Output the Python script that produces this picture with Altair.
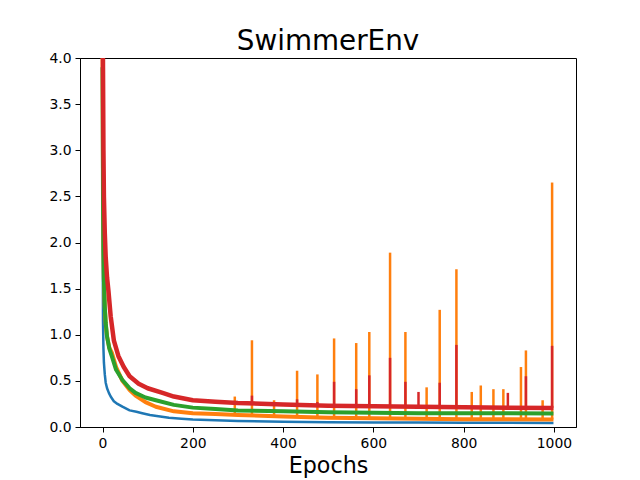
import altair as alt
import pandas as pd

# ---- data ----
blue_epoch = [0, 1, 2, 3, 5, 7, 10, 14, 18, 25, 33, 44, 60, 75, 88, 105, 120, 147, 175, 200, 250, 300, 400, 500, 600, 700, 800, 900, 999]
blue_loss = [3.15, 1.15, 0.85, 0.70, 0.57, 0.48, 0.42, 0.37, 0.33, 0.28, 0.25, 0.22, 0.18, 0.165, 0.15, 0.13, 0.12, 0.10, 0.09, 0.08, 0.072, 0.065, 0.058, 0.052, 0.05, 0.048, 0.046, 0.045, 0.044]

green_epoch = [0, 1, 2, 3, 5, 7, 10, 15, 21, 30, 44, 60, 73, 95, 118, 158, 200, 250, 300, 400, 500, 600, 700, 800, 900, 999]
green_loss = [3.9, 2.5, 1.9, 1.6, 1.3, 1.13, 0.98, 0.85, 0.76, 0.62, 0.51, 0.42, 0.37, 0.32, 0.29, 0.24, 0.21, 0.195, 0.18, 0.17, 0.16, 0.155, 0.15, 0.15, 0.15, 0.145]

orange_epoch = [0, 1, 2, 3, 5, 7, 10, 15, 21, 30, 44, 60, 73, 95, 118, 158, 200, 250, 300, 400, 500, 600, 700, 800, 900, 999]
orange_loss = [4.1, 2.8, 2.0, 1.6, 1.3, 1.12, 0.98, 0.86, 0.80, 0.65, 0.50, 0.40, 0.34, 0.27, 0.22, 0.17, 0.15, 0.14, 0.13, 0.115, 0.10, 0.095, 0.09, 0.085, 0.085, 0.08]

red_epoch = [0, 1, 2, 3, 5, 7, 10, 13, 18, 25, 35, 47, 60, 80, 100, 133, 158, 200, 250, 300, 400, 500, 600, 700, 800, 900, 999]
red_loss = [5.0, 3.9, 3.0, 2.5, 2.1, 1.84, 1.62, 1.48, 1.2, 0.94, 0.77, 0.65, 0.55, 0.47, 0.42, 0.37, 0.33, 0.29, 0.275, 0.26, 0.245, 0.23, 0.225, 0.22, 0.215, 0.21, 0.205]

# spikes (single-epoch jumps)
orange_spike_epoch = [293, 331, 380, 431, 476, 513, 562, 591, 637, 671, 718, 747, 784, 818, 838, 866, 888, 927, 938, 975, 996]
orange_spike_top = [0.33, 0.94, 0.29, 0.61, 0.57, 0.96, 0.91, 1.03, 1.89, 1.03, 0.43, 1.27, 1.71, 0.38, 0.45, 0.41, 0.41, 0.65, 0.83, 0.29, 2.65]
orange_spike_base = [0.13, 0.13, 0.12, 0.12, 0.11, 0.10, 0.10, 0.10, 0.095, 0.09, 0.09, 0.09, 0.09, 0.085, 0.085, 0.085, 0.085, 0.085, 0.085, 0.08, 0.08]

red_spike_epoch = [331, 431, 476, 513, 562, 591, 637, 671, 700, 747, 784, 898, 938, 996]
red_spike_top = [0.34, 0.30, 0.27, 0.49, 0.41, 0.56, 0.75, 0.49, 0.38, 0.48, 0.89, 0.37, 0.55, 0.88]
red_spike_base = [0.24, 0.24, 0.23, 0.23, 0.23, 0.225, 0.225, 0.22, 0.22, 0.22, 0.215, 0.21, 0.21, 0.205]

colors = {"blue": "#1f77b4", "orange": "#ff7f0e", "green": "#2ca02c", "red": "#d62728"}


def line_df(ep, vals):
    return pd.DataFrame({"epoch": ep, "loss": vals})


def spike_df(ep, base, top):
    return pd.DataFrame({"epoch": ep, "base": base, "top": top})


xscale = alt.Scale(domain=[-49.95, 1048.95], nice=False, zero=False)
yscale = alt.Scale(domain=[0, 4], nice=False, zero=False)

xaxis = alt.Axis(values=[0, 200, 400, 600, 800, 1000], format="d", title="Epochs", grid=False,
                 labelFontSize=13.9, titleFontSize=22.2, titleFontWeight="normal",
                 titleBaseline="alphabetic", titleY=45, labelPadding=4)
yaxis = alt.Axis(values=[0, 0.5, 1, 1.5, 2, 2.5, 3, 3.5, 4], format=".1f", title=None,
                 grid=False, labelFontSize=13.9, labelPadding=4)


def line_layer(ep, vals, color, width):
    return alt.Chart(line_df(ep, vals)).mark_line(
        color=color, strokeWidth=width, clip=True, strokeJoin="round"
    ).encode(
        x=alt.X("epoch:Q", scale=xscale, axis=xaxis),
        y=alt.Y("loss:Q", scale=yscale, axis=yaxis),
    )


def spike_layer(ep, base, top, color, width):
    return alt.Chart(spike_df(ep, base, top)).mark_rule(
        color=color, strokeWidth=width, clip=True
    ).encode(
        x=alt.X("epoch:Q", scale=xscale, axis=xaxis),
        y=alt.Y("base:Q", scale=yscale, axis=yaxis),
        y2="top:Q",
    )


chart = alt.layer(
    line_layer(blue_epoch, blue_loss, colors["blue"], 2.5),
    line_layer(orange_epoch, orange_loss, colors["orange"], 4),
    spike_layer(orange_spike_epoch, orange_spike_base, orange_spike_top, colors["orange"], 2.5),
    line_layer(green_epoch, green_loss, colors["green"], 4),
    line_layer(red_epoch, red_loss, colors["red"], 4.5),
    spike_layer(red_spike_epoch, red_spike_base, red_spike_top, colors["red"], 2.5),
).properties(
    width=496,
    height=369,
    title=alt.TitleParams("SwimmerEnv", fontSize=27.8, fontWeight="normal", color="black",
                          anchor="middle", baseline="alphabetic", offset=1, dy=28),
    autosize=alt.AutoSizeParams(type="none"),
    padding={"left": 72, "top": 50, "right": 56, "bottom": 52},
).configure(
    font="DejaVu Sans",
).configure_view(
    stroke="black", strokeWidth=1
).configure_axis(
    domainColor="black", domainWidth=1, tickColor="black", tickWidth=1, tickSize=5,
    labelColor="black", titleColor="black", labelFont="DejaVu Sans", titleFont="DejaVu Sans",
).configure_title(font="DejaVu Sans")

chart.save("out.html", embed_options={"renderer": "svg", "actions": False})
